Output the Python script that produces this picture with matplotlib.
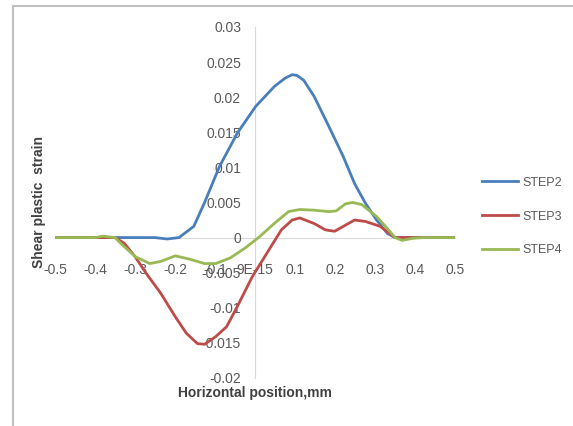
import matplotlib.pyplot as plt
from matplotlib.lines import Line2D

plt.rcParams['font.family'] = ['Liberation Sans Narrow', 'Liberation Sans', 'DejaVu Sans']

# horizontal position (mm) and shear plastic strain for each step
x2 = [-0.5, -0.4, -0.35, -0.25, -0.22, -0.19, -0.153, -0.126, -0.089, -0.044, 0.002,
      0.048, 0.075, 0.093, 0.105, 0.122, 0.148, 0.185, 0.221, 0.249, 0.276, 0.304, 0.331, 0.35, 0.4, 0.5]
step2 = [0, 0, 0, 0, -0.0002, 0.0, 0.0016, 0.005, 0.0101, 0.0149, 0.0187,
         0.0215, 0.0227, 0.0232, 0.0231, 0.0224, 0.0201, 0.0158, 0.0115, 0.0077, 0.0049, 0.0025, 0.0006, 0, 0, 0]

x3 = [-0.5, -0.4, -0.35, -0.327, -0.30, -0.272, -0.236, -0.199, -0.172, -0.144, -0.126,
      -0.098, -0.071, -0.044, -0.007, 0.030, 0.066, 0.093, 0.112, 0.148, 0.176, 0.199,
      0.221, 0.249, 0.276, 0.313, 0.35, 0.4, 0.5]
step3 = [0, 0, 0, -0.0008, -0.0027, -0.0051, -0.0079, -0.0113, -0.0136, -0.0151, -0.0152,
         -0.0141, -0.0127, -0.0098, -0.0056, -0.0022, 0.0011, 0.0025, 0.0028, 0.002, 0.0011, 0.0009,
         0.0016, 0.0025, 0.0023, 0.0016, 0, 0, 0]

x4 = [-0.5, -0.4, -0.38, -0.35, -0.336, -0.30, -0.263, -0.236, -0.199, -0.162, -0.126,
      -0.098, -0.062, -0.025, 0.011, 0.048, 0.084, 0.112, 0.148, 0.185, 0.203, 0.226,
      0.244, 0.267, 0.304, 0.331, 0.35, 0.368, 0.395, 0.42, 0.5]
step4 = [0, 0, 0.0002, 0, -0.0008, -0.0027, -0.0037, -0.0034, -0.0026, -0.0031, -0.0037,
         -0.0037, -0.0029, -0.0015, 0.0001, 0.002, 0.0037, 0.004, 0.0039, 0.0037, 0.0038, 0.0048,
         0.005, 0.0047, 0.003, 0.0013, 0, -0.0004, -0.0001, 0, 0]

xticks = [-0.5, -0.4, -0.3, -0.2, -0.1, 0, 0.1, 0.2, 0.3, 0.4, 0.5]
xticklabels = ['-0.5', '-0.4', '-0.3', '-0.2', '-0.1', '9E-15', '0.1', '0.2', '0.3', '0.4', '0.5']
yticks = [-0.02, -0.015, -0.01, -0.005, 0, 0.005, 0.01, 0.015, 0.02, 0.025, 0.03]
yticklabels = ['-0.02', '-0.015', '-0.01', '-0.005', '0', '0.005', '0.01', '0.015', '0.02', '0.025', '0.03']

fig = plt.figure(figsize=(5.73, 4.26), dpi=100)
ax = fig.add_axes([0.096, 0.1127, 0.698, 0.824])

ax.plot(x2, step2, color='#4a7ebb', lw=2, label='STEP2')
ax.plot(x3, step3, color='#be4b48', lw=2, label='STEP3')
ax.plot(x4, step4, color='#98b954', lw=2, label='STEP4')

ax.set_xlim(-0.5, 0.5)
ax.set_ylim(-0.02, 0.03)
for side in ['top', 'right']:
    ax.spines[side].set_visible(False)
ax.spines['left'].set_position(('data', 0))
ax.spines['bottom'].set_position(('data', 0))
ax.spines['left'].set_color('#d9d9d9')
ax.spines['bottom'].set_color('#d9d9d9')
ax.spines['left'].set_zorder(0)
ax.spines['bottom'].set_zorder(0)

ax.set_xticks(xticks)
ax.set_xticklabels(xticklabels)
ax.set_yticks(yticks)
ax.set_yticklabels(yticklabels)
ax.tick_params(axis='x', length=0, pad=18, labelsize=10, labelcolor='#595959')
ax.tick_params(axis='y', length=0, pad=10, labelsize=10, labelcolor='#595959')

fig.text(0.068, 0.525, 'Shear plastic  strain', rotation=90, ha='center', va='center',
         fontsize=10, fontweight='bold', color='#404040')
fig.text(0.445, 0.077, 'Horizontal position,mm', ha='center', va='center',
         fontsize=10, fontweight='bold', color='#404040')

ax.legend(loc='center left', bbox_to_anchor=(1.04, 0.46), frameon=False, fontsize=9,
          handlelength=2.9, handletextpad=0.3, labelspacing=1.75, labelcolor='#595959')

# chart border
fig.add_artist(Line2D([0.023, 1.0], [0.986, 0.986], color='#bfbfbf', lw=1.5))
fig.add_artist(Line2D([0.023, 0.023], [0.0, 0.986], color='#bfbfbf', lw=1.5))

fig.savefig('out.png', dpi=100)
